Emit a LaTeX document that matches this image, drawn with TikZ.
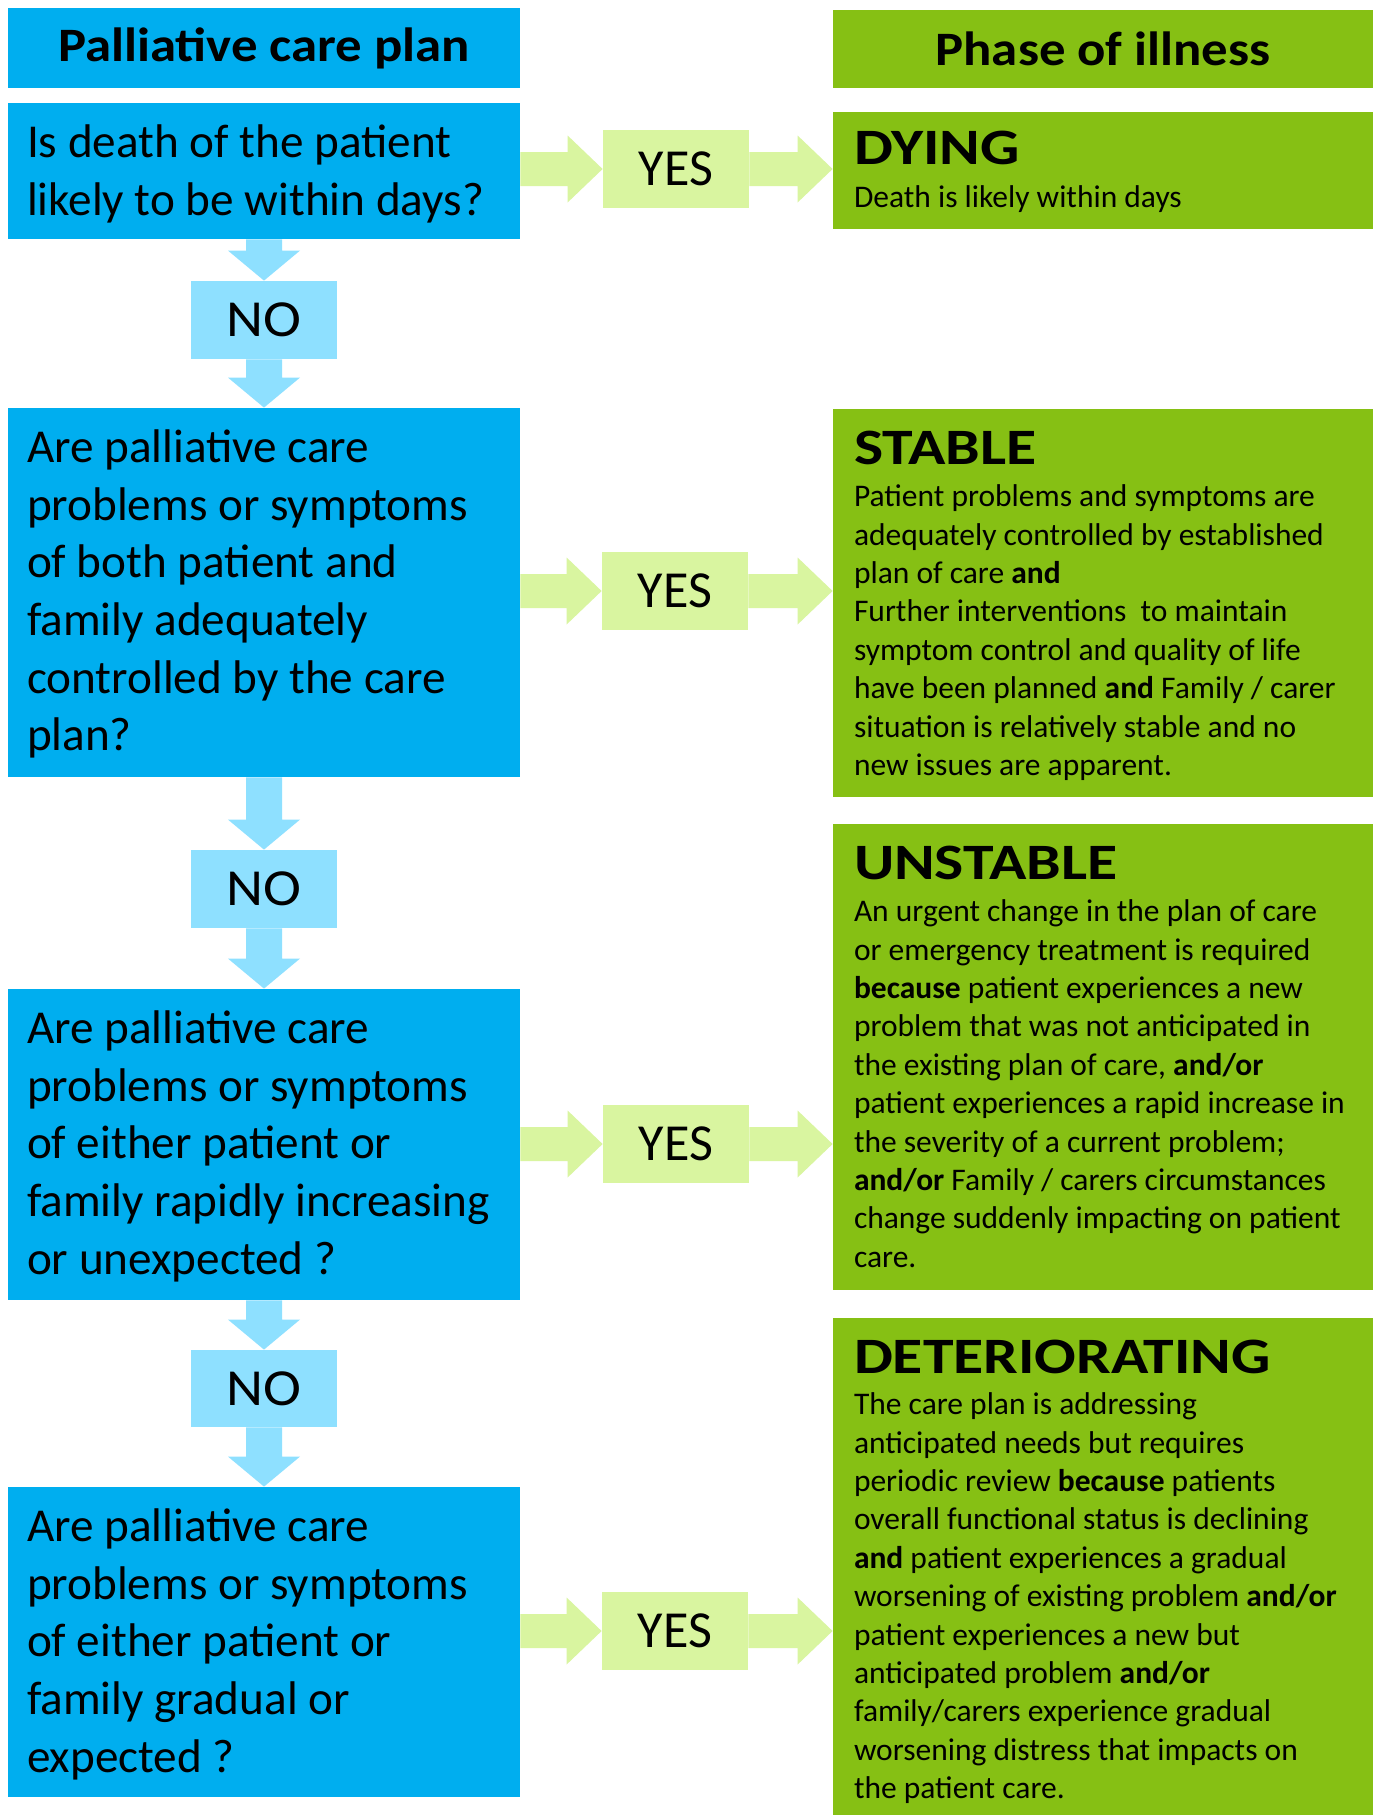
\documentclass[tikz,border=0pt]{standalone}
\usepackage{fontspec}
\setmainfont{Carlito}
\newfontfamily\titlefont{Carlito}[FakeStretch=1.21]
\newfontfamily\hdrfont{Carlito}[FakeStretch=1.1]
\usetikzlibrary{calc}
\definecolor{qblue}{RGB}{0,174,239}
\definecolor{noblue}{RGB}{142,224,255}
\definecolor{yesgreen}{RGB}{217,245,160}
\definecolor{phasegreen}{RGB}{134,192,20}
\newcommand\toplines[1]{\begin{tabular}[t]{@{}l@{}}#1\end{tabular}}
\tikzset{
  boxbase/.style={rectangle, inner sep=0pt, draw=none},
  qtext/.style={inner sep=0pt, anchor=base west, font=\fontsize{23.6pt}{28.8pt}\selectfont},
  ptitle/.style={inner sep=0pt, anchor=base west, font=\titlefont\bfseries\fontsize{25.5pt}{30pt}\selectfont},
  pbody/.style={inner sep=0pt, anchor=base west, font=\fontsize{15.75pt}{19.2pt}\selectfont},
  hdr/.style={font=\hdrfont\bfseries\fontsize{24pt}{28pt}\selectfont},
  yestext/.style={font=\fontsize{26pt}{30pt}\selectfont},
  notext/.style={font=\hdrfont\fontsize{26pt}{30pt}\selectfont}
}
% box: name, x1, y1, x2, y2, fill, style, text
\newcommand\pbox[8]{\node[boxbase,fill=#6,#7,minimum width={(#4-#2)*0.5pt},minimum height={(#5-#3)*0.5pt}] (#1) at ({(#2+#4)/2},{(#3+#5)/2}) {#8};}
% right block arrow: from node #1 east to node #2 west, at height of #1 centre
\newcommand\rarrow[2]{\fill[yesgreen] let \p1=(#1.east), \p2=(#2.west) in
  (\x1,\y1+8.5pt) -- (\x2-17.5pt,\y1+8.5pt) -- (\x2-17.5pt,\y1+16.75pt) -- (\x2,\y1)
  -- (\x2-17.5pt,\y1-16.75pt) -- (\x2-17.5pt,\y1-8.5pt) -- (\x1,\y1-8.5pt) -- cycle;}
% right block arrow into a YES box: from node #1 east to node #2 west, at height of #2 centre
\newcommand\yarrow[2]{\fill[yesgreen] let \p1=(#1.east), \p2=(#2.west) in
  (\x1,\y2+8.5pt) -- (\x2-17.5pt,\y2+8.5pt) -- (\x2-17.5pt,\y2+16.75pt) -- (\x2,\y2)
  -- (\x2-17.5pt,\y2-16.75pt) -- (\x2-17.5pt,\y2-8.5pt) -- (\x1,\y2-8.5pt) -- cycle;}
% down block arrow: from node #1 south to node #2 north
\newcommand\darrow[2]{\fill[noblue] let \p1=(#1.south), \p2=(#2.north) in
  (\x2-9pt,\y1) -- (\x2-9pt,\y2+15pt) -- (\x2-18pt,\y2+15pt) -- (\x2,\y2)
  -- (\x2+18pt,\y2+15pt) -- (\x2+9pt,\y2+15pt) -- (\x2+9pt,\y1) -- cycle;}
\begin{document}
\begin{tikzpicture}[x=0.5pt,y=-0.5pt]
\useasboundingbox[fill=white] (0,0) rectangle (1375,1815);
% headers
\pbox{hdrL}{8}{8}{520}{88}{qblue}{hdr}{Palliative care plan}
\pbox{hdrR}{833}{10}{1373}{88}{phasegreen}{hdr}{Phase of illness}
% question boxes
\pbox{q1}{8}{103}{520}{239}{qblue}{}{}
\pbox{q2}{8}{408}{520}{777}{qblue}{}{}
\pbox{q3}{8}{989}{520}{1300}{qblue}{}{}
\pbox{q4}{8}{1487}{520}{1797}{qblue}{}{}
% NO boxes
\pbox{no1}{191}{281}{337}{359}{noblue}{notext}{NO}
\pbox{no2}{191}{850}{337}{928}{noblue}{notext}{NO}
\pbox{no3}{191}{1350}{337}{1427}{noblue}{notext}{NO}
% YES boxes
\pbox{yes1}{603}{130}{749}{208}{yesgreen}{yestext}{YES}
\pbox{yes2}{602}{552}{748}{630}{yesgreen}{yestext}{YES}
\pbox{yes3}{603}{1105}{749}{1183}{yesgreen}{yestext}{YES}
\pbox{yes4}{602}{1592}{748}{1670}{yesgreen}{yestext}{YES}
% phase boxes
\pbox{dying}{833}{112}{1373}{229}{phasegreen}{}{}
\pbox{stable}{833}{409}{1373}{797}{phasegreen}{}{}
\pbox{unstable}{833}{824}{1373}{1290}{phasegreen}{}{}
\pbox{deter}{833}{1318}{1373}{1815}{phasegreen}{}{}
% question texts
\node[qtext] (q1t) at ($(q1.north west)+(19,55)$) {\toplines{Is death of the patient\\likely to be within days?}};
\node[qtext] (q2t) at ($(q2.north west)+(19,55)$) {\toplines{Are palliative care\\problems or symptoms\\of both patient and\\family adequately\\controlled by the care\\plan?}};
\node[qtext] (q3t) at ($(q3.north west)+(19,55)$) {\toplines{Are palliative care\\problems or symptoms\\of either patient or\\family rapidly increasing\\or unexpected ?}};
\node[qtext] (q4t) at ($(q4.north west)+(19,55)$) {\toplines{Are palliative care\\problems or symptoms\\of either patient or\\family gradual or\\expected ?}};
% phase texts
\node[ptitle] (dyingT) at ($(dying.north west)+(21,53)$) {DYING};
\node[pbody] (dyingB) at ($(dyingT.base west)+(0,43)$) {Death is likely within days};
\node[ptitle] (stableT) at ($(stable.north west)+(21,56)$) {STABLE};
\node[pbody] (stableB) at ($(stableT.base west)+(0,42)$) {\toplines{Patient problems and symptoms are\\adequately controlled by established\\plan of care \textbf{and}\\Further interventions\ \ to maintain\\symptom control and quality of life\\have been planned \textbf{and} Family / carer\\situation is relatively stable and no\\new issues are apparent.}};
\node[ptitle] (unstableT) at ($(unstable.north west)+(21,56)$) {UNSTABLE};
\node[pbody] (unstableB) at ($(unstableT.base west)+(0,42)$) {\toplines{An urgent change in the plan of care\\or emergency treatment is required\\\textbf{because} patient experiences a new\\problem that was not anticipated in\\the existing plan of care, \textbf{and/or}\\patient experiences a rapid increase in\\the severity of a current problem;\\\textbf{and/or} Family / carers circumstances\\change suddenly impacting on patient\\care.}};
\node[ptitle] (deterT) at ($(deter.north west)+(21,56)$) {DETERIORATING};
\node[pbody] (deterB) at ($(deterT.base west)+(0,41)$) {\toplines{The care plan is addressing\\anticipated needs but requires\\periodic review \textbf{because} patients\\overall functional status is declining\\\textbf{and} patient experiences a gradual\\worsening of existing problem \textbf{and/or}\\patient experiences a new but\\anticipated problem \textbf{and/or}\\family/carers experience gradual\\worsening distress that impacts on\\the patient care.}};
% YES arrows
\yarrow{q1}{yes1} \rarrow{yes1}{dying}
\yarrow{q2}{yes2} \rarrow{yes2}{stable}
\yarrow{q3}{yes3} \rarrow{yes3}{unstable}
\yarrow{q4}{yes4} \rarrow{yes4}{deter}
% NO arrows
\darrow{q1}{no1} \darrow{no1}{q2}
\darrow{q2}{no2} \darrow{no2}{q3}
\darrow{q3}{no3} \darrow{no3}{q4}
\end{tikzpicture}
\end{document}
